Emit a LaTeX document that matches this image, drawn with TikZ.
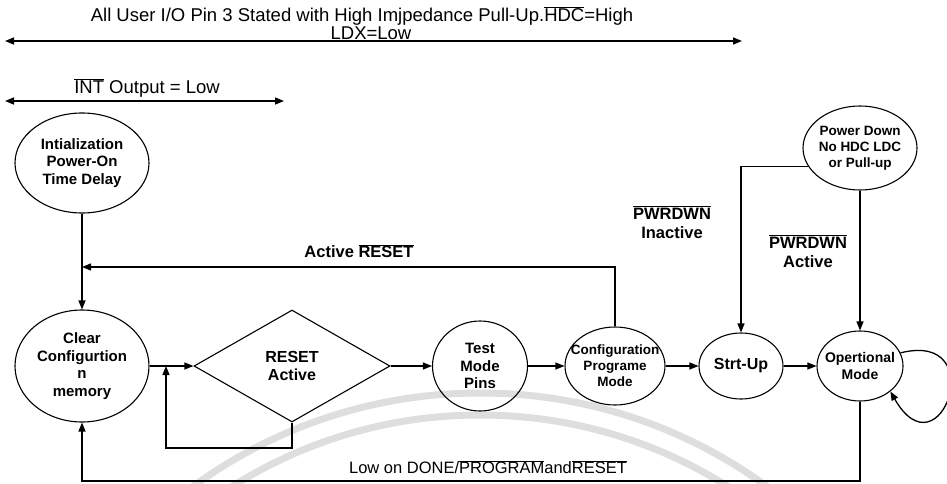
\documentclass[tikz,border=0pt]{standalone}
\usepackage{fontspec}
\setmainfont{Liberation Sans}
\usetikzlibrary{arrows.meta,shapes.geometric}
\newcommand\ovl[1]{$\overline{\mbox{#1}}$}

\begin{document}
\begin{tikzpicture}[x=1pt,y=-1pt,
  lbl/.style={font=\bfseries\fontsize{15}{17.5}\selectfont, align=center, inner sep=0pt},
  big/.style={font=\bfseries\fontsize{16}{18.5}\selectfont, align=center, inner sep=0pt},
  small/.style={font=\bfseries\fontsize{13.5}{16}\selectfont, align=center, inner sep=0pt},
  cond/.style={font=\bfseries\fontsize{16.5}{19}\selectfont, align=center, inner sep=0pt},
  state/.style={draw, line width=1.1pt, ellipse, inner sep=0pt},
  arr/.style={draw, line width=1.3pt, -{Triangle[length=9pt,width=7pt]}},
  dbl/.style={draw, line width=1.5pt, {Triangle[length=9pt,width=7pt]}-{Triangle[length=9pt,width=7pt]}},
  toptxt/.style={font=\fontsize{18.5}{20}\selectfont, inner sep=0pt, align=center},
  wm/.style={draw=black!13, line width=7pt}
]
\useasboundingbox (0,0) rectangle (947,484);

% faint background arcs
\begin{scope}
  \clip (0,0) rectangle (947,484);
  \draw[wm] (480,880) circle (487);
  \draw[wm] (480,880) circle (465);
\end{scope}

% global status lines
\node[toptxt] (title) at (362,16) {All User I/O Pin 3 Stated with High Imjpedance Pull-Up.\ovl{HDC}=High};
\node[toptxt] (ldx) at (371,33) {LDX=Low};
\coordinate (a1) at (5,41);
\coordinate (a2) at (742,41);
\draw[dbl] (a1) -- (a2);
\node[toptxt] (intlow) at (147,88) {\ovl{INT} Output = Low};
\coordinate (b1) at (5,101);
\coordinate (b2) at (284,101);
\draw[dbl] (b1) -- (b2);

% states
\node[state, minimum width=134pt, minimum height=100pt,
      label={[lbl]center:{Intialization\\Power-On\\Time Delay}}] (init) at (82,163) {};
\node[state, minimum width=134pt, minimum height=112pt,
      label={[lbl]center:{Clear\\Configurtion\\n\\memory}}] (clear) at (82,366) {};
\node[draw, line width=1.1pt, diamond, aspect=1.75, inner sep=0pt,
      minimum width=196pt, minimum height=112pt,
      label={[big]center:{RESET\\Active}}] (dia) at (292,366) {};
\node[state, minimum width=95pt, minimum height=90pt,
      label={[lbl]center:{Test\\Mode\\Pins}}] (test) at (480,366) {};
\node[state, minimum width=100pt, minimum height=78pt,
      label={[small]center:{Configuration\\Programe\\Mode}}] (config) at (615,366) {};
\node[state, minimum width=84pt, minimum height=66pt,
      label={[big]center:{Strt-Up}}] (strt) at (741,366) {};
\node[state, minimum width=86pt, minimum height=70pt,
      label={[small, font=\bfseries\fontsize{14}{16.5}\selectfont]center:{Opertional\\Mode}}] (opert) at (860,366) {};
\node[state, minimum width=114pt, minimum height=84pt,
      label={[small]center:{Power Down\\No HDC LDC\\or Pull-up}}] (power) at (860,148) {};

% transitions
\draw[arr] (init) -- (clear);
\coordinate (fb) at (82,267);
\draw[arr] (config.north) |- (fb);
\node[cond] (actreset) at (359,251) {Active \ovl{RESET}};

\draw[arr] (clear) -- (dia);
\coordinate (lpa) at (166,448);
\coordinate (lpb) at (166,366);
\draw[arr] (dia.south) |- (lpa) -- (lpb);

\draw[arr] (dia) -- (test);
\draw[arr] (test) -- (config);
\draw[arr] (config) -- (strt);
\draw[arr] (strt) -- (opert);

\draw[arr] (power.200) -| (strt.north);
\node[cond] (pwinact) at (672,222) {\ovl{PWRDWN}\\Inactive};
\draw[arr] (power) -- (opert);
\node[cond] (pwact) at (808,251) {\ovl{PWRDWN}\\Active};

% self loop on the operational state
\draw[arr] (opert.18) .. controls (992,330) and (940,478) .. (opert.-40);

\coordinate (bot) at (0,481);
\draw[arr] (opert.south) -- (opert.south |- bot) -| (clear.south);
\node[font=\fontsize{16.5}{18}\selectfont, inner sep=0pt] (lowdone) at (488,467) {Low on DONE/\ovl{PROGRAM}and\ovl{RESET}};
\end{tikzpicture}
\end{document}
